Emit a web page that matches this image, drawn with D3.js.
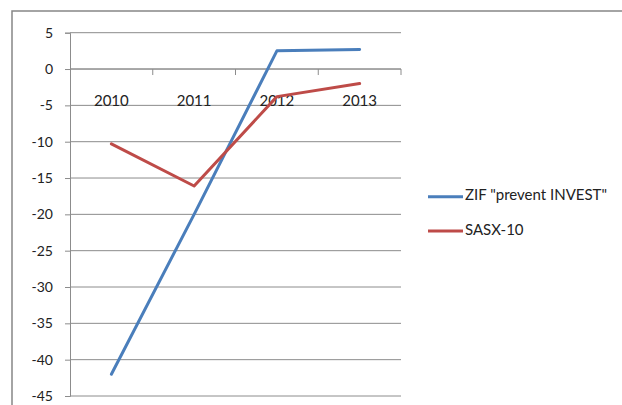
<!DOCTYPE html>
<html>
<head>
<meta charset="utf-8">
<script src="https://cdn.jsdelivr.net/npm/d3@7"></script>
<style>
  html, body { margin: 0; padding: 0; background: #fff; }
  svg { display: block; font-family: Lato, "Open Sans", sans-serif; }
</style>
</head>
<body>
<svg id="chart" width="622" height="405"></svg>
<script>
// Annual returns (%) of the fund and the index
const years = ["2010", "2011", "2012", "2013"];
const zifValues = [-42, -20, 2.5, 2.7];
const sasxValues = [-10.3, -16.1, -3.8, -2.0];
const yTicks = [5, 0, -5, -10, -15, -20, -25, -30, -35, -40, -45];
const seriesNames = ["ZIF \"prevent INVEST\"", "SASX-10"];
const seriesColors = ["#4a7ebb", "#be4b48"];

const svg = d3.select("#chart");
const plot = { left: 70, right: 401, top: 32.7, bottom: 396 };

// Chart-area frame (runs off the right and bottom edges)
svg.append("rect")
  .attr("x", 12).attr("y", 11)
  .attr("width", 640).attr("height", 420)
  .attr("fill", "#fff")
  .attr("stroke", "#868686")
  .attr("stroke-width", 1.5);

const x = d3.scaleBand().domain(years).range([plot.left, plot.right]).padding(0);
const y = d3.scaleLinear().domain([-45, 5]).range([plot.bottom, plot.top]);

// Horizontal gridlines
svg.append("g")
  .selectAll("line")
  .data(yTicks)
  .join("line")
  .attr("x1", plot.left).attr("x2", plot.right)
  .attr("y1", d => y(d)).attr("y2", d => y(d))
  .attr("stroke", "#8c8c8c")
  .attr("stroke-width", 1);

// Value axis
const yAxis = d3.axisLeft(y).tickValues(yTicks).tickSize(5).tickPadding(12)
  .tickFormat(d3.format("d"));
const gy = svg.append("g").attr("transform", `translate(${plot.left},0)`).call(yAxis);
gy.select(".domain").attr("stroke", "#8c8c8c");
gy.selectAll(".tick line").attr("stroke", "#8c8c8c");
gy.selectAll(".tick text")
  .attr("fill", "#222")
  .style("font-size", "14px")
  .style("font-family", "Lato, sans-serif")
  .text(d => d < 0 ? "-" + Math.abs(d) : d);

// Category axis crossing at zero
const catBoundaries = years.map(d => x(d)).concat([plot.right]);
const gx = svg.append("g");
gx.append("line")
  .attr("x1", plot.left).attr("x2", plot.right)
  .attr("y1", y(0)).attr("y2", y(0))
  .attr("stroke", "#8c8c8c");
gx.selectAll("line.tk")
  .data(catBoundaries.slice(1))
  .join("line")
  .attr("class", "tk")
  .attr("x1", d => d).attr("x2", d => d)
  .attr("y1", y(0)).attr("y2", y(0) + 6)
  .attr("stroke", "#8c8c8c");
gx.selectAll("text")
  .data(years)
  .join("text")
  .attr("x", d => x(d) + x.bandwidth() / 2)
  .attr("y", y(0) + 37)
  .attr("text-anchor", "middle")
  .attr("fill", "#222")
  .style("font-size", "15px")
  .text(d => d);

// Series lines
const line = d3.line()
  .x((d, i) => x(years[i]) + x.bandwidth() / 2)
  .y(d => y(d));

[zifValues, sasxValues].forEach((vals, i) => {
  svg.append("path")
    .datum(vals)
    .attr("d", line)
    .attr("fill", "none")
    .attr("stroke", seriesColors[i])
    .attr("stroke-width", 3)
    .attr("stroke-linejoin", "round")
    .attr("stroke-linecap", "round");
});

// Legend
const legend = svg.append("g");
seriesNames.forEach((name, i) => {
  const ly = 196.7 + i * 34.3;
  legend.append("line")
    .attr("x1", 428).attr("x2", 463)
    .attr("y1", ly).attr("y2", ly)
    .attr("stroke", seriesColors[i])
    .attr("stroke-width", 3);
  legend.append("text")
    .attr("x", 465).attr("y", ly)
    .attr("dominant-baseline", "middle")
    .attr("fill", "#222")
    .style("font-size", "15px")
    .text(name);
});
</script>
</body>
</html>
